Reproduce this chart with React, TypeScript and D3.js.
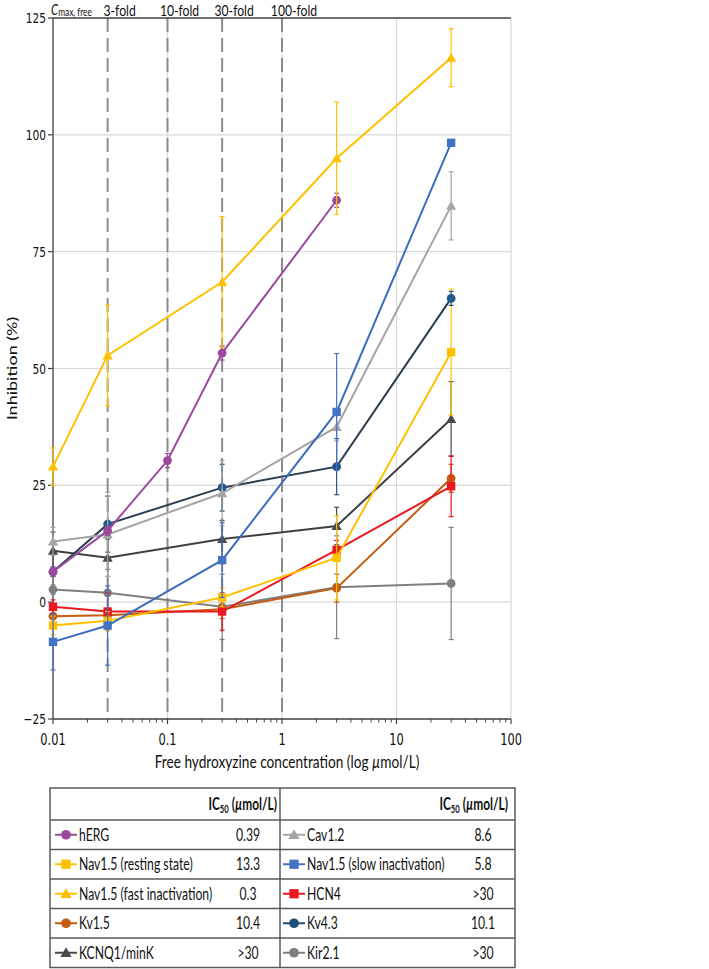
import React from 'react';
import * as d3 from 'd3';

// concentrations (µmol/L)
const concentrations = [0.01, 0.03, 0.3, 3, 30];
const hergConcentrations = [0.01, 0.03, 0.1, 0.3, 3];
const foldLines = [0.03, 0.1, 0.3, 1];
const foldLabels = ['3-fold', '10-fold', '30-fold', '100-fold'];
const yTicks = [-25, 0, 25, 50, 75, 100, 125];
const xTicks = [0.01, 0.1, 1, 10, 100];
const xTickLabels = ['0.01', '0.1', '1', '10', '100'];

// inhibition (%) and error
const hergValues = [6.5, 15.3, 30.3, 53.3, 86];
const hergErr = [1, 1, 1.5, 1.5, 1.5];
const navRestValues = [-5, -4, 1, 9.5, 53.5];
const navRestErr = [2, 2, 2, 9, 13.5];
const navFastValues = [29, 52.8, 68.5, 95, 116.5];
const navFastErr = [4, 10.8, 14, 12, 6.2];
const kv15Values = [-3, -2.8, -1.5, 3, 26.5];
const kv15Err = [1.5, 1, 2, 3, 3];
const kcnq1Values = [11, 9.5, 13.5, 16.3, 39.2];
const kcnq1Err = [4, 4, 4, 4, 8];
const cav12Values = [13, 14.5, 23.3, 37.5, 84.8];
const cav12Err = [3, 9, 7, 3, 7.3];
const navSlowValues = [-8.5, -5, 9, 40.7, 98.3];
const navSlowErr = [6, 8.5, 8, 12.5, 0.5];
const hcn4Values = [-1, -2, -2, 11.2, 24.8];
const hcn4Err = [1.5, 4, 4, 2, 6.5];
const kv43Values = [6.5, 16.7, 24.5, 29, 65];
const kv43Err = [1, 6, 5, 6, 1.5];
const kir21Values = [2.7, 2, -1, 3.2, 4];
const kir21Err = [1, 5, 7, 11, 12];

// IC50 table
const leftNames = ['hERG', 'Nav1.5 (resting state)', 'Nav1.5 (fast inactivation)', 'Kv1.5', 'KCNQ1/minK'];
const leftIC50 = ['0.39', '13.3', '0.3', '10.4', '>30'];
const rightNames = ['Cav1.2', 'Nav1.5 (slow inactivation)', 'HCN4', 'Kv4.3', 'Kir2.1'];
const rightIC50 = ['8.6', '5.8', '>30', '10.1', '>30'];

type Shape = 'circle' | 'square' | 'triangle';
type Series = { name: string; x: number[]; v: number[]; e: number[]; color: string; line: string; shape: Shape };

const series: Series[] = [
  { name: 'Kir2.1', x: concentrations, v: kir21Values, e: kir21Err, color: '#7f7f7f', line: '#7f7f7f', shape: 'circle' },
  { name: 'KCNQ1/minK', x: concentrations, v: kcnq1Values, e: kcnq1Err, color: '#4a4a4a', line: '#404040', shape: 'triangle' },
  { name: 'Kv1.5', x: concentrations, v: kv15Values, e: kv15Err, color: '#c55a11', line: '#c55a11', shape: 'circle' },
  { name: 'HCN4', x: concentrations, v: hcn4Values, e: hcn4Err, color: '#e8191f', line: '#e8191f', shape: 'square' },
  { name: 'Nav1.5 (resting state)', x: concentrations, v: navRestValues, e: navRestErr, color: '#ffc000', line: '#ffc000', shape: 'square' },
  { name: 'Kv4.3', x: concentrations, v: kv43Values, e: kv43Err, color: '#22598a', line: '#2b3e52', shape: 'circle' },
  { name: 'Cav1.2', x: concentrations, v: cav12Values, e: cav12Err, color: '#a5a5a5', line: '#a5a5a5', shape: 'triangle' },
  { name: 'Nav1.5 (slow inactivation)', x: concentrations, v: navSlowValues, e: navSlowErr, color: '#4472c4', line: '#3d6cbf', shape: 'square' },
  { name: 'hERG', x: hergConcentrations, v: hergValues, e: hergErr, color: '#9b4a9c', line: '#9b4a9c', shape: 'circle' },
  { name: 'Nav1.5 (fast inactivation)', x: concentrations, v: navFastValues, e: navFastErr, color: '#ffc000', line: '#ffc000', shape: 'triangle' },
];

const legendStyle: Record<string, { color: string; shape: Shape }> = Object.fromEntries(
  series.map(s => [s.name, { color: s.name === 'Kv4.3' ? '#1f4e79' : s.color, shape: s.shape }])
);

const W = 709;
const H = 969;
const SX = 0.76; // the reference glyphs are narrow
const labelFont = 'Lato, "Open Sans", sans-serif';
const tickFont = '"DejaVu Sans", Verdana, sans-serif';

const x = d3.scaleLog().domain([0.01, 100]).range([53, 511]);
const y = d3.scaleLinear().domain([-25, 125]).range([719, 18]);

function Marker({ cx, cy, shape, color, size = 1 }: { cx: number; cy: number; shape: Shape; color: string; size?: number }) {
  if (shape === 'circle') return <circle cx={cx} cy={cy} r={4.4 * size} fill={color} />;
  if (shape === 'square') {
    const s = 8.4 * size;
    return <rect x={cx - s / 2} y={cy - s / 2} width={s} height={s} fill={color} />;
  }
  const path = d3.symbol(d3.symbolTriangle, 46 * size * size)();
  return <path d={path || ''} transform={`translate(${cx},${cy + 1})`} fill={color} />;
}

function T({ x: tx, y: ty, children, size, anchor = 'start', font = labelFont, weight = 400, fill = '#111', sx = SX }: any) {
  return (
    <text transform={`translate(${tx},${ty}) scale(${sx},1)`} fontSize={size} textAnchor={anchor} fontFamily={font} fontWeight={weight} fill={fill}>
      {children}
    </text>
  );
}

export default function App() {
  const [x0, x1] = x.range();
  const [yb, yt] = y.range();
  const line = d3.line<[number, number]>().x(d => x(d[0])).y(d => y(d[1]));
  const minorTicks: number[] = [];
  for (let dec = 0.01; dec < 100; dec *= 10) for (let k = 2; k <= 9; k++) minorTicks.push(dec * k);

  const tableTop = 788;
  const headerH = 32;
  const rowH = 29.5;
  const tx0 = 50, txMid = 280, tx1 = 515;
  const tableBottom = tableTop + headerH + rowH * 5;

  return (
    <svg width={W} height={H} style={{ position: 'absolute', left: 0, top: 0, background: '#fff' }}>
      {/* grid */}
      {yTicks.filter(t => t > -25 && t < 125).map(t => (
        <line key={'gy' + t} x1={x0} x2={x1} y1={y(t)} y2={y(t)} stroke="#d9d9d9" strokeWidth={1.2} />
      ))}
      {xTicks.filter(t => t > 0.01).map(t => (
        <line key={'gx' + t} x1={x(t)} x2={x(t)} y1={yt} y2={yb} stroke="#d9d9d9" strokeWidth={1.2} />
      ))}
      {/* fold lines */}
      {foldLines.map(f => (
        <line key={'f' + f} x1={x(f)} x2={x(f)} y1={yt} y2={yb} stroke="#8c8c8c" strokeWidth={2} strokeDasharray="14,6" />
      ))}
      {/* axes */}
      <line x1={x0} x2={x1} y1={yt} y2={yt} stroke="#404040" strokeWidth={1.3} />
      <line x1={x0} x2={x1} y1={yb} y2={yb} stroke="#404040" strokeWidth={1.3} />
      <line x1={x0} x2={x0} y1={yt} y2={yb} stroke="#404040" strokeWidth={1.3} />
      {yTicks.map(t => (
        <g key={'yt' + t}>
          <line x1={x0 - 5} x2={x0} y1={y(t)} y2={y(t)} stroke="#404040" strokeWidth={1.2} />
          <T x={x0 - 7} y={y(t) + 5} size={14} anchor="end" font={tickFont}>{t < 0 ? '\u2212' + Math.abs(t) : t}</T>
        </g>
      ))}
      {xTicks.map((t, i) => (
        <g key={'xt' + t}>
          <line x1={x(t)} x2={x(t)} y1={yb} y2={yb + 5} stroke="#404040" strokeWidth={1.2} />
          <T x={x(t)} y={745} size={15} anchor="middle" font={tickFont}>{xTickLabels[i]}</T>
        </g>
      ))}
      {minorTicks.map(t => (
        <line key={'mt' + t} x1={x(t)} x2={x(t)} y1={yb} y2={yb + 3.5} stroke="#404040" strokeWidth={1} />
      ))}
      {/* top labels */}
      <text transform={`translate(51,15) scale(${SX},1)`} fontFamily={labelFont} fill="#111">
        <tspan fontSize={15} fontStyle="italic">C</tspan>
        <tspan fontSize={11} dy={1}>max, free</tspan>
      </text>
      {foldLines.map((f, i) => (
        <T key={'fl' + f} x={x(f) + 12} y={16} size={16} anchor="middle">{foldLabels[i]}</T>
      ))}
      {/* axis titles */}
      <T x={287} y={768} size={18} anchor="middle">Free hydroxyzine concentration (log <tspan fontStyle="italic">µ</tspan>mol/L)</T>
      <text transform={`translate(17,${(yt + yb) / 2}) scale(${SX},1) rotate(-90)`} fontSize={18} textAnchor="middle" fontFamily={labelFont} fill="#111">
        Inhibition (%)
      </text>
      {/* series */}
      {series.map(s => {
        const pts = s.x.map((c, i) => [c, s.v[i]] as [number, number]);
        return (
          <g key={s.name}>
            {pts.map((p, i) => (
              <g key={i} stroke={s.color} strokeWidth={1.2}>
                <line x1={x(p[0])} x2={x(p[0])} y1={y(p[1] - s.e[i])} y2={y(p[1] + s.e[i])} />
                <line x1={x(p[0]) - 2.5} x2={x(p[0]) + 2.5} y1={y(p[1] + s.e[i])} y2={y(p[1] + s.e[i])} />
                <line x1={x(p[0]) - 2.5} x2={x(p[0]) + 2.5} y1={y(p[1] - s.e[i])} y2={y(p[1] - s.e[i])} />
              </g>
            ))}
            <path d={line(pts) || ''} fill="none" stroke={s.line} strokeWidth={2} />
            {pts.map((p, i) => (
              <Marker key={'m' + i} cx={x(p[0])} cy={y(p[1])} shape={s.shape} color={s.color} />
            ))}
          </g>
        );
      })}
      {/* IC50 table */}
      <g stroke="#595959" strokeWidth={1.5} fill="none">
        <rect x={tx0} y={tableTop} width={tx1 - tx0} height={tableBottom - tableTop} />
        <line x1={txMid} x2={txMid} y1={tableTop} y2={tableBottom} />
        {d3.range(5).map(i => (
          <line key={'r' + i} x1={tx0} x2={tx1} y1={tableTop + headerH + rowH * i} y2={tableTop + headerH + rowH * i} />
        ))}
      </g>
      {[277, 508].map(hx => (
        <text key={'h' + hx} transform={`translate(${hx},${tableTop + 22}) scale(0.7,1)`} fontSize={17} textAnchor="end" fontFamily={labelFont} fontWeight={700} fill="#111">
          IC<tspan fontSize={11} dy={3}>50</tspan><tspan dy={-3}> (</tspan><tspan fontStyle="italic">µ</tspan>mol/L)
        </text>
      ))}
      {[
        { names: leftNames, vals: leftIC50, mx: 66, vx: 248 },
        { names: rightNames, vals: rightIC50, mx: 294, vx: 483 },
      ].map(col =>
        col.names.map((n, i) => {
          const cy = tableTop + headerH + rowH * i + rowH / 2;
          const st = legendStyle[n];
          return (
            <g key={n}>
              <line x1={col.mx - 11} x2={col.mx + 11} y1={cy} y2={cy} stroke={st.color} strokeWidth={2} />
              <Marker cx={col.mx} cy={cy} shape={st.shape} color={st.color} size={1.1} />
              <T x={col.mx + 13} y={cy + 6} size={16.5} sx={0.74}>{n}</T>
              <T x={col.vx} y={cy + 6} size={16.5} sx={0.74} anchor="middle">{col.vals[i]}</T>
            </g>
          );
        })
      )}
    </svg>
  );
}
